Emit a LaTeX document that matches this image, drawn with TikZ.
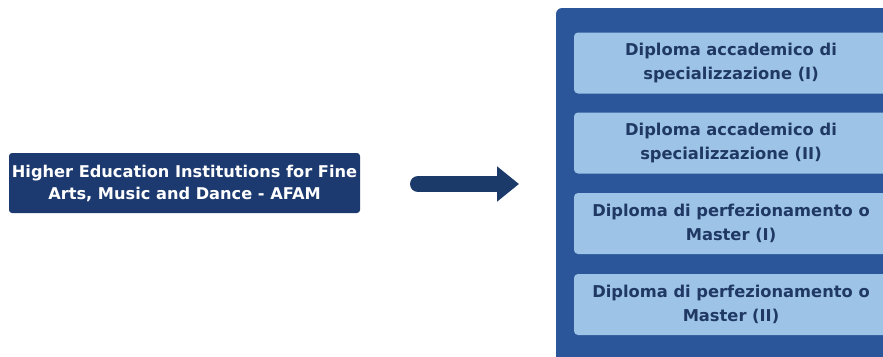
\documentclass[tikz,border=0pt]{standalone}
\usepackage{fontspec}
\setmainfont{DejaVu Sans}
\usetikzlibrary{arrows.meta}
\definecolor{navy}{RGB}{28,58,112}
\definecolor{arrowc}{RGB}{27,58,105}
\definecolor{panelc}{RGB}{43,87,154}
\definecolor{lightc}{RGB}{157,195,230}
\definecolor{textc}{RGB}{31,56,100}
\tikzset{
  srcbox/.style={fill=navy, rounded corners=3pt, minimum width=351pt, minimum height=60pt,
    align=center, text=white, font=\fontsize{16.2}{22}\selectfont\bfseries, inner sep=0pt},
  degbox/.style={fill=lightc, rounded corners=4pt, minimum width=314pt, minimum height=61pt,
    align=center, text=textc, font=\fontsize{16.3}{23.5}\selectfont\bfseries, inner sep=0pt},
  bigarrow/.style={draw=arrowc, line width=16pt, line cap=round,
    -{Triangle[length=22pt,width=34pt]}},
}
\begin{document}
\begin{tikzpicture}[x=1pt,y=-1pt]
\useasboundingbox (0,0) rectangle (883,356);
\begin{scope}
\clip (0,0) rectangle (883,356);
\fill[panelc, rounded corners=6pt] (556,8) rectangle (900,380);
\node[degbox] (d1) at (731,63) {Diploma accademico di\\specializzazione (I)};
\node[degbox] (d2) at (731,143) {Diploma accademico di\\specializzazione (II)};
\node[degbox] (d3) at (731,223.5) {Diploma di perfezionamento o\\Master (I)};
\node[degbox] (d4) at (731,304.5) {Diploma di perfezionamento o\\Master (II)};
\end{scope}
\node[srcbox] (afam) at (184.5,183) {Higher Education Institutions for Fine\\Arts, Music and Dance - AFAM};
\coordinate (a1) at (418,184);
\coordinate (a2) at (519,184);
\draw[bigarrow] (a1) -- (a2);
\end{tikzpicture}
\end{document}
